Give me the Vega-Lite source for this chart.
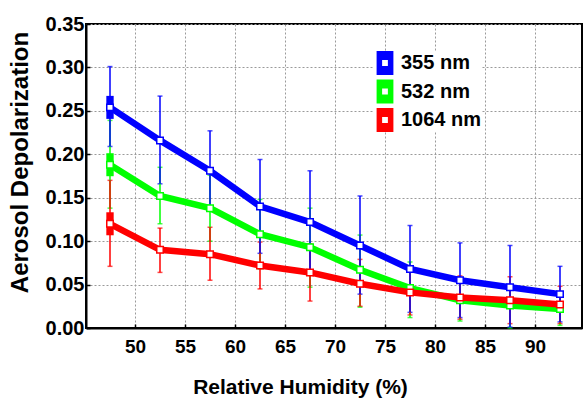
{
  "$schema": "https://vega.github.io/schema/vega-lite/v6.json",
  "width": 496,
  "height": 304,
  "autosize": {"type": "none"},
  "padding": {"left": 86, "top": 24, "right": 1, "bottom": 73},
  "background": "white",
  "config": {
    "font": "Liberation Sans",
    "view": {"stroke": "black", "strokeWidth": 2},
    "axis": {
      "labelFont": "Liberation Sans",
      "titleFont": "Liberation Sans",
      "labelFontWeight": "bold",
      "titleFontWeight": "bold",
      "labelColor": "black",
      "titleColor": "black",
      "domainColor": "black",
      "domainWidth": 2,
      "gridColor": "#9a9a9a",
      "gridDash": [2, 2],
      "gridWidth": 1,
      "gridOpacity": 1,
      "tickColor": "black",
      "tickSize": -4,
      "tickWidth": 1.5
    }
  },
  "data": {
    "values": [
      {"rh": 47.5, "wl": "532 nm", "dep": 0.188, "lo": 0.138, "hi": 0.239},
      {"rh": 52.5, "wl": "532 nm", "dep": 0.152, "lo": 0.120, "hi": 0.185},
      {"rh": 57.5, "wl": "532 nm", "dep": 0.138, "lo": 0.100, "hi": 0.176},
      {"rh": 62.5, "wl": "532 nm", "dep": 0.108, "lo": 0.068, "hi": 0.148},
      {"rh": 67.5, "wl": "532 nm", "dep": 0.093, "lo": 0.047, "hi": 0.138},
      {"rh": 72.5, "wl": "532 nm", "dep": 0.067, "lo": 0.024, "hi": 0.107},
      {"rh": 77.5, "wl": "532 nm", "dep": 0.046, "lo": 0.012, "hi": 0.076},
      {"rh": 82.5, "wl": "532 nm", "dep": 0.032, "lo": 0.008, "hi": 0.055},
      {"rh": 87.5, "wl": "532 nm", "dep": 0.026, "lo": 0.000, "hi": 0.050},
      {"rh": 92.5, "wl": "532 nm", "dep": 0.022, "lo": 0.003, "hi": 0.040},
      {"rh": 47.5, "wl": "1064 nm", "dep": 0.120, "lo": 0.071, "hi": 0.170},
      {"rh": 52.5, "wl": "1064 nm", "dep": 0.090, "lo": 0.064, "hi": 0.115},
      {"rh": 57.5, "wl": "1064 nm", "dep": 0.085, "lo": 0.055, "hi": 0.116},
      {"rh": 62.5, "wl": "1064 nm", "dep": 0.072, "lo": 0.045, "hi": 0.099},
      {"rh": 67.5, "wl": "1064 nm", "dep": 0.064, "lo": 0.031, "hi": 0.097},
      {"rh": 72.5, "wl": "1064 nm", "dep": 0.051, "lo": 0.025, "hi": 0.079},
      {"rh": 77.5, "wl": "1064 nm", "dep": 0.041, "lo": 0.015, "hi": 0.067},
      {"rh": 82.5, "wl": "1064 nm", "dep": 0.035, "lo": 0.010, "hi": 0.060},
      {"rh": 87.5, "wl": "1064 nm", "dep": 0.032, "lo": 0.005, "hi": 0.059},
      {"rh": 92.5, "wl": "1064 nm", "dep": 0.027, "lo": 0.005, "hi": 0.048},
      {"rh": 47.5, "wl": "355 nm", "dep": 0.254, "lo": 0.209, "hi": 0.301},
      {"rh": 52.5, "wl": "355 nm", "dep": 0.216, "lo": 0.166, "hi": 0.267},
      {"rh": 57.5, "wl": "355 nm", "dep": 0.181, "lo": 0.135, "hi": 0.227},
      {"rh": 62.5, "wl": "355 nm", "dep": 0.140, "lo": 0.086, "hi": 0.194},
      {"rh": 67.5, "wl": "355 nm", "dep": 0.122, "lo": 0.062, "hi": 0.181},
      {"rh": 72.5, "wl": "355 nm", "dep": 0.095, "lo": 0.039, "hi": 0.152},
      {"rh": 77.5, "wl": "355 nm", "dep": 0.068, "lo": 0.018, "hi": 0.118},
      {"rh": 82.5, "wl": "355 nm", "dep": 0.055, "lo": 0.012, "hi": 0.098},
      {"rh": 87.5, "wl": "355 nm", "dep": 0.047, "lo": 0.001, "hi": 0.095},
      {"rh": 92.5, "wl": "355 nm", "dep": 0.039, "lo": 0.007, "hi": 0.071}
    ]
  },
  "encoding": {
    "x": {
      "field": "rh",
      "type": "quantitative",
      "scale": {"domain": [45.1, 94.7], "nice": false, "zero": false},
      "axis": {
        "values": [50, 55, 60, 65, 70, 75, 80, 85, 90],
        "title": "Relative Humidity (%)",
        "labelFontSize": 19,
        "labelPadding": 13,
        "titleFontSize": 21,
        "titleX": 214,
        "titleY": 65,
        "titleAlign": "center",
        "titleBaseline": "alphabetic"
      }
    },
    "color": {
      "field": "wl",
      "type": "nominal",
      "scale": {"domain": ["355 nm", "532 nm", "1064 nm"], "range": ["#0000ff", "#00ff00", "#ff0000"]},
      "legend": {
        "title": null,
        "orient": "none",
        "legendX": 287,
        "legendY": 27,
        "padding": 0,
        "fillColor": "white",
        "symbolType": "M-0.7,-1H0.7V1H-0.7Z M-0.24,-0.24V0.24H0.24V-0.24Z",
        "symbolSize": 576,
        "symbolStrokeWidth": 0,
        "rowPadding": 4.5,
        "labelOffset": 4,
        "labelFont": "Liberation Sans",
        "labelFontSize": 20,
        "labelFontWeight": "bold",
        "labelColor": "black",
        "encode": {
          "symbols": {"update": {"fill": {"scale": "color", "field": "value"}, "fillOpacity": {"value": 1}, "strokeWidth": {"value": 0}}}
        }
      }
    }
  },
  "layer": [
    {
      "mark": {"type": "errorbar", "thickness": 1.5, "ticks": {"size": 5, "thickness": 1.5}},
      "encoding": {
        "y": {
          "field": "lo",
          "type": "quantitative",
          "scale": {"domain": [0, 0.35], "nice": false},
          "axis": {
            "values": [0, 0.05, 0.1, 0.15, 0.2, 0.25, 0.3, 0.35],
            "format": ".2f",
            "title": "Aerosol Depolarization",
            "labelFontSize": 20,
            "labelPadding": 6,
            "titleFontSize": 24,
            "titleX": -66,
            "titleY": 138,
            "titleAlign": "center",
            "titleBaseline": "middle",
            "titleAngle": -90
          }
        },
        "y2": {"field": "hi"}
      }
    },
    {
      "mark": {"type": "line", "strokeWidth": 6.5},
      "encoding": {"y": {"field": "dep", "type": "quantitative"}}
    },
    {
      "transform": [{"filter": "datum.rh == 47.5"}],
      "mark": {"type": "point", "shape": "M-0.32,-1H0.32V1H-0.32Z", "filled": true, "opacity": 1, "size": 529},
      "encoding": {"y": {"field": "dep", "type": "quantitative"}}
    },
    {
      "mark": {"type": "point", "shape": "square", "filled": false, "fill": "white", "fillOpacity": 1, "opacity": 1, "strokeWidth": 1.5, "size": 42},
      "encoding": {"y": {"field": "dep", "type": "quantitative"}}
    }
  ]
}
